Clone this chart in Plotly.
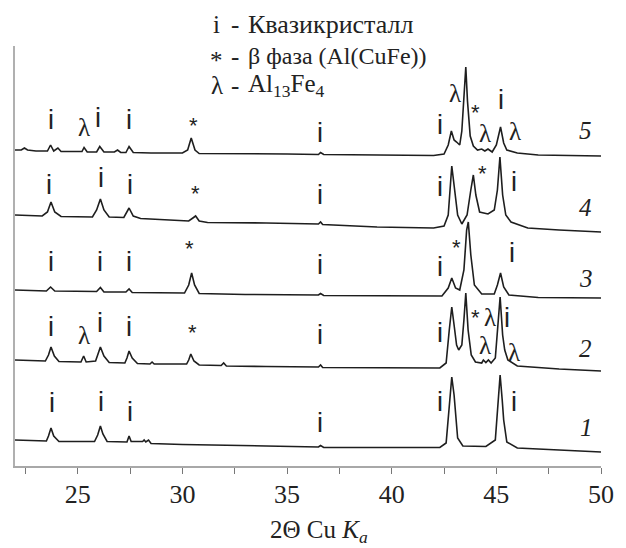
import plotly.graph_objects as go

# ---------------- data (2-theta, intensity a.u., patterns vertically offset as in figure) ----------
x1 = [22.0, 23.5, 23.6, 23.72, 23.85, 24.1, 25.8, 25.95, 26.08, 26.2, 26.4, 27.35, 27.45, 27.55, 28.1, 28.17,
      28.25, 28.38, 28.5, 30.0, 34.0, 36.5, 36.6, 36.75, 40.0, 42.3, 42.6, 42.75, 42.87, 42.98, 43.05, 43.15,
      43.4, 44.5, 44.95, 45.08, 45.18, 45.28, 45.35, 45.5, 46.0, 48.0, 50.0]
y1 = [26, 25, 30, 38, 30, 24.5, 24.5, 31, 40, 32, 24.5, 24, 30, 24.5, 24.5, 26, 24, 26, 22.5, 21.5, 20, 19,
      20.5, 18.5, 18.5, 18.5, 23, 56, 89, 71, 56, 28, 20, 19.5, 26, 66, 91, 66, 46, 24, 18, 16, 14]

x2 = [22.0, 23.45, 23.6, 23.72, 23.88, 24.1, 25.15, 25.28, 25.4, 25.85, 25.95, 26.08, 26.25, 26.5, 27.25, 27.35,
      27.45, 27.6, 27.85, 28.45, 28.55, 28.65, 30.2, 30.3, 30.4, 30.55, 30.8, 31.85, 31.97, 32.1, 34.0, 36.5,
      36.6, 36.7, 42.3, 42.6, 42.75, 42.87, 42.98, 43.1, 43.2, 43.35, 43.45, 43.54, 43.65, 43.8, 44.0, 44.3,
      44.38, 44.5, 44.62, 44.75, 44.95, 45.05, 45.18, 45.3, 45.4, 45.55, 46.0, 48.0, 50.0]
y2 = [106, 105, 111, 119, 110, 104.5, 104, 110, 104, 105, 111, 119, 110, 103.5, 103, 108, 115, 108, 102.5, 102,
      104, 102, 102, 106, 112, 105, 101, 100.5, 103, 100, 99.5, 99, 101, 98.5, 98, 103, 136, 159, 141, 121, 116,
      121, 146, 173, 136, 111, 104, 103, 106, 103.5, 106, 103, 108, 136, 169, 131, 116, 106, 100, 97, 95]

x3 = [22.0, 23.5, 23.7, 23.9, 25.9, 26.08, 26.25, 27.3, 27.45, 27.6, 30.1, 30.3, 30.44, 30.58, 30.8, 33.0, 36.5,
      36.6, 36.75, 40.0, 42.4, 42.7, 42.87, 43.05, 43.25, 43.45, 43.58, 43.66, 43.78, 43.95, 44.3, 44.9, 45.05,
      45.2, 45.35, 45.6, 47.0, 50.0]
y3 = [176, 175, 179, 175, 174.5, 178.5, 174, 174, 177, 173.5, 173, 181, 193, 181, 172.5, 171.5, 171, 172.5,
      170.5, 170.5, 170, 178, 188, 178, 176, 196, 236, 244, 211, 181, 172, 172, 181, 193, 179, 171, 168.5, 168]

x4 = [22.0, 23.3, 23.55, 23.72, 23.9, 24.2, 25.7, 25.9, 26.08, 26.25, 26.5, 27.2, 27.45, 27.65, 28.0, 30.3, 30.5,
      30.63, 30.8, 31.2, 34.0, 36.5, 36.6, 36.7, 39.3, 42.0, 42.5, 42.7, 42.87, 43.0, 43.15, 43.35, 43.6, 43.78,
      43.9, 44.02, 44.2, 44.6, 44.9, 45.05, 45.17, 45.3, 45.45, 45.7, 46.5, 48.0, 50.0]
y4 = [251, 250, 254, 264, 254, 249.5, 249, 256, 267, 256, 249, 248.5, 258, 250, 247.5, 245, 248, 250, 245,
      243.5, 243, 242, 244, 241.5, 239, 238, 240, 251, 300, 276, 251, 242, 251, 276, 291, 271, 254, 252, 256,
      276, 309, 271, 251, 244, 238, 236, 234]

x5 = [22.0, 22.3, 22.45, 22.6, 23.0, 23.55, 23.7, 23.85, 24.05, 24.2, 25.0, 25.2, 25.3, 25.45, 25.9, 26.05,
      26.25, 26.75, 26.9, 27.05, 27.3, 27.45, 27.65, 28.5, 30.0, 30.25, 30.42, 30.6, 30.8, 32.0, 35.0, 36.5,
      36.6, 36.75, 40.0, 42.0, 42.5, 42.7, 42.85, 42.98, 43.1, 43.25, 43.35, 43.45, 43.54, 43.62, 43.75, 43.9,
      44.1, 44.3, 44.45, 44.6, 44.8, 45.0, 45.2, 45.35, 45.5, 46.0, 47.0, 50.0]
y5 = [316, 316, 318, 316, 315, 315, 321, 315, 318, 314.5, 314.5, 314.5, 318.5, 314, 314, 319.5, 314, 314, 316,
      313.5, 313.5, 319.5, 313.5, 313, 313, 316, 328, 316, 312.5, 312.5, 312, 311.5, 313.5, 311.5, 311, 310.5,
      312, 321, 335, 326, 324, 321, 335, 365, 399, 365, 330, 320, 316, 317, 315, 317, 314, 321, 339, 323, 316,
      313, 311, 310]

patterns_x = [x1, x2, x3, x4, x5]
patterns_y = [y1, y2, y3, y4, y5]
pattern_names = ["1", "2", "3", "4", "5"]
name_x = [49.3, 49.28, 49.28, 49.28, 49.28]
name_y = [39, 118, 188, 259, 336]

# phase marks: (2theta, intensity, symbol)
marks = [
    # pattern 5
    (23.71, 346, "i"), (25.32, 339, "λ"), (25.98, 348, "i"), (27.46, 346, "i"), (30.55, 346, "*"),
    (36.56, 333, "i"), (42.3, 341, "i"), (43.02, 373, "λ"), (44.01, 359, "*"), (45.2, 366, "i"),
    (44.44, 333, "λ"), (45.91, 335, "λ"),
    # pattern 4
    (23.61, 281, "i"), (26.13, 288, "i"), (27.5, 281, "i"), (30.63, 278, "*"), (36.56, 271, "i"),
    (42.3, 279, "i"), (44.34, 298, "*"), (45.86, 284, "i"),
    # pattern 3
    (23.71, 204, "i"), (26.08, 204, "i"), (27.46, 204, "i"), (30.35, 223, "*"), (36.56, 201, "i"),
    (42.3, 199, "i"), (43.11, 224, "*"), (45.77, 213, "i"),
    # pattern 2
    (23.71, 139, "i"), (25.32, 131, "λ"), (26.08, 143, "i"), (27.46, 139, "i"), (30.49, 139, "*"),
    (36.56, 131, "i"), (42.3, 133, "i"), (44.01, 154, "*"), (44.68, 149, "λ"), (45.53, 148, "i"),
    (44.44, 121, "λ"), (45.86, 114, "λ"),
    # pattern 1
    (23.76, 63, "i"), (26.13, 64, "i"), (27.5, 54, "i"), (36.56, 43, "i"), (42.3, 64, "i"), (45.86, 64, "i"),
]

legend_symbols = ["i", "*", "λ"]
legend_texts = ["Квазикристалл", "β фаза (Al(CuFe))", "Al<sub>13</sub>Fe<sub>4</sub>"]
legend_sizes = [26, 24, 25]
legend_y = [1.052, 0.976, 0.905]   # paper fraction of plot height

major_ticks = [25, 30, 35, 40, 45, 50]
minor_ticks = [22.5, 27.5, 32.5, 37.5, 42.5, 47.5]

# ---------------- figure ----------------
SERIF = "Liberation Serif"
SANS = "Liberation Sans"
fig = go.Figure()
for xs, ys in zip(patterns_x, patterns_y):
    fig.add_trace(go.Scatter(x=xs, y=ys, mode="lines", line=dict(color="#1e1e1e", width=1.6),
                             hoverinfo="skip", showlegend=False))

annotations = []
for mx, my, sym in marks:
    if sym == "i":
        f = dict(family=SANS, size=27, color="#222")
        ys = 0
    elif sym == "λ":
        f = dict(family=SERIF, size=25, color="#222")
        ys = 0
    else:
        f = dict(family=SANS, size=22, color="#222")
        ys = -5
    annotations.append(dict(x=mx, y=my, text=sym, showarrow=False, font=f, xanchor="center",
                            yanchor="middle", yshift=ys))

for nm, nx, ny in zip(pattern_names, name_x, name_y):
    annotations.append(dict(x=nx, y=ny, text=f"<i>{nm}</i>", showarrow=False,
                            font=dict(family=SERIF, size=25, color="#222"), xanchor="center",
                            yanchor="middle"))

# legend block: symbol, dash, description (aligned columns)
for sym, txt, sz, ly in zip(legend_symbols, legend_texts, legend_sizes, legend_y):
    lf = dict(family=SERIF, size=25, color="#222")
    annotations.append(dict(x=0.344, y=ly, xref="paper", yref="paper", text=sym, showarrow=False,
                            xanchor="center", yanchor="middle", font=lf,
                            yshift=-4 if sym == "*" else 0))
    annotations.append(dict(x=0.376, y=ly, xref="paper", yref="paper", text="-", showarrow=False,
                            xanchor="center", yanchor="middle", font=lf))
    annotations.append(dict(x=0.394, y=ly, xref="paper", yref="paper", text=txt, showarrow=False,
                            xanchor="left", yanchor="middle",
                            font=dict(family=SERIF, size=sz, color="#222")))

annotations.append(dict(x=0.519, y=-0.155, xref="paper", yref="paper",
                        text="2Θ Cu <i>K</i><sub><i>a</i></sub>", showarrow=False,
                        xanchor="center", yanchor="middle",
                        font=dict(family=SERIF, size=25, color="#222")))

fig.update_layout(
    width=626, height=548,
    margin=dict(l=15, r=20, t=46, b=82),
    paper_bgcolor="white", plot_bgcolor="white",
    annotations=annotations,
    xaxis=dict(range=[22, 50], tickvals=major_ticks, ticks="outside", ticklen=6,
               tickcolor="#777", tickwidth=1, showline=True, linecolor="#a8a8a8", linewidth=1.5,
               showgrid=False, zeroline=False, ticklabelstandoff=-2,
               minor=dict(tickvals=minor_ticks, ticks="outside", ticklen=6, tickcolor="#777",
                          tickwidth=1, showgrid=False),
               tickfont=dict(family=SERIF, size=26, color="#222")),
    yaxis=dict(range=[0, 420], showline=True, linecolor="#b0b0b0", linewidth=2, showgrid=False,
               zeroline=False, tickvals=[420], ticks="inside", ticklen=3, tickcolor="#444",
               showticklabels=False),
)

fig.write_html("out.html")
